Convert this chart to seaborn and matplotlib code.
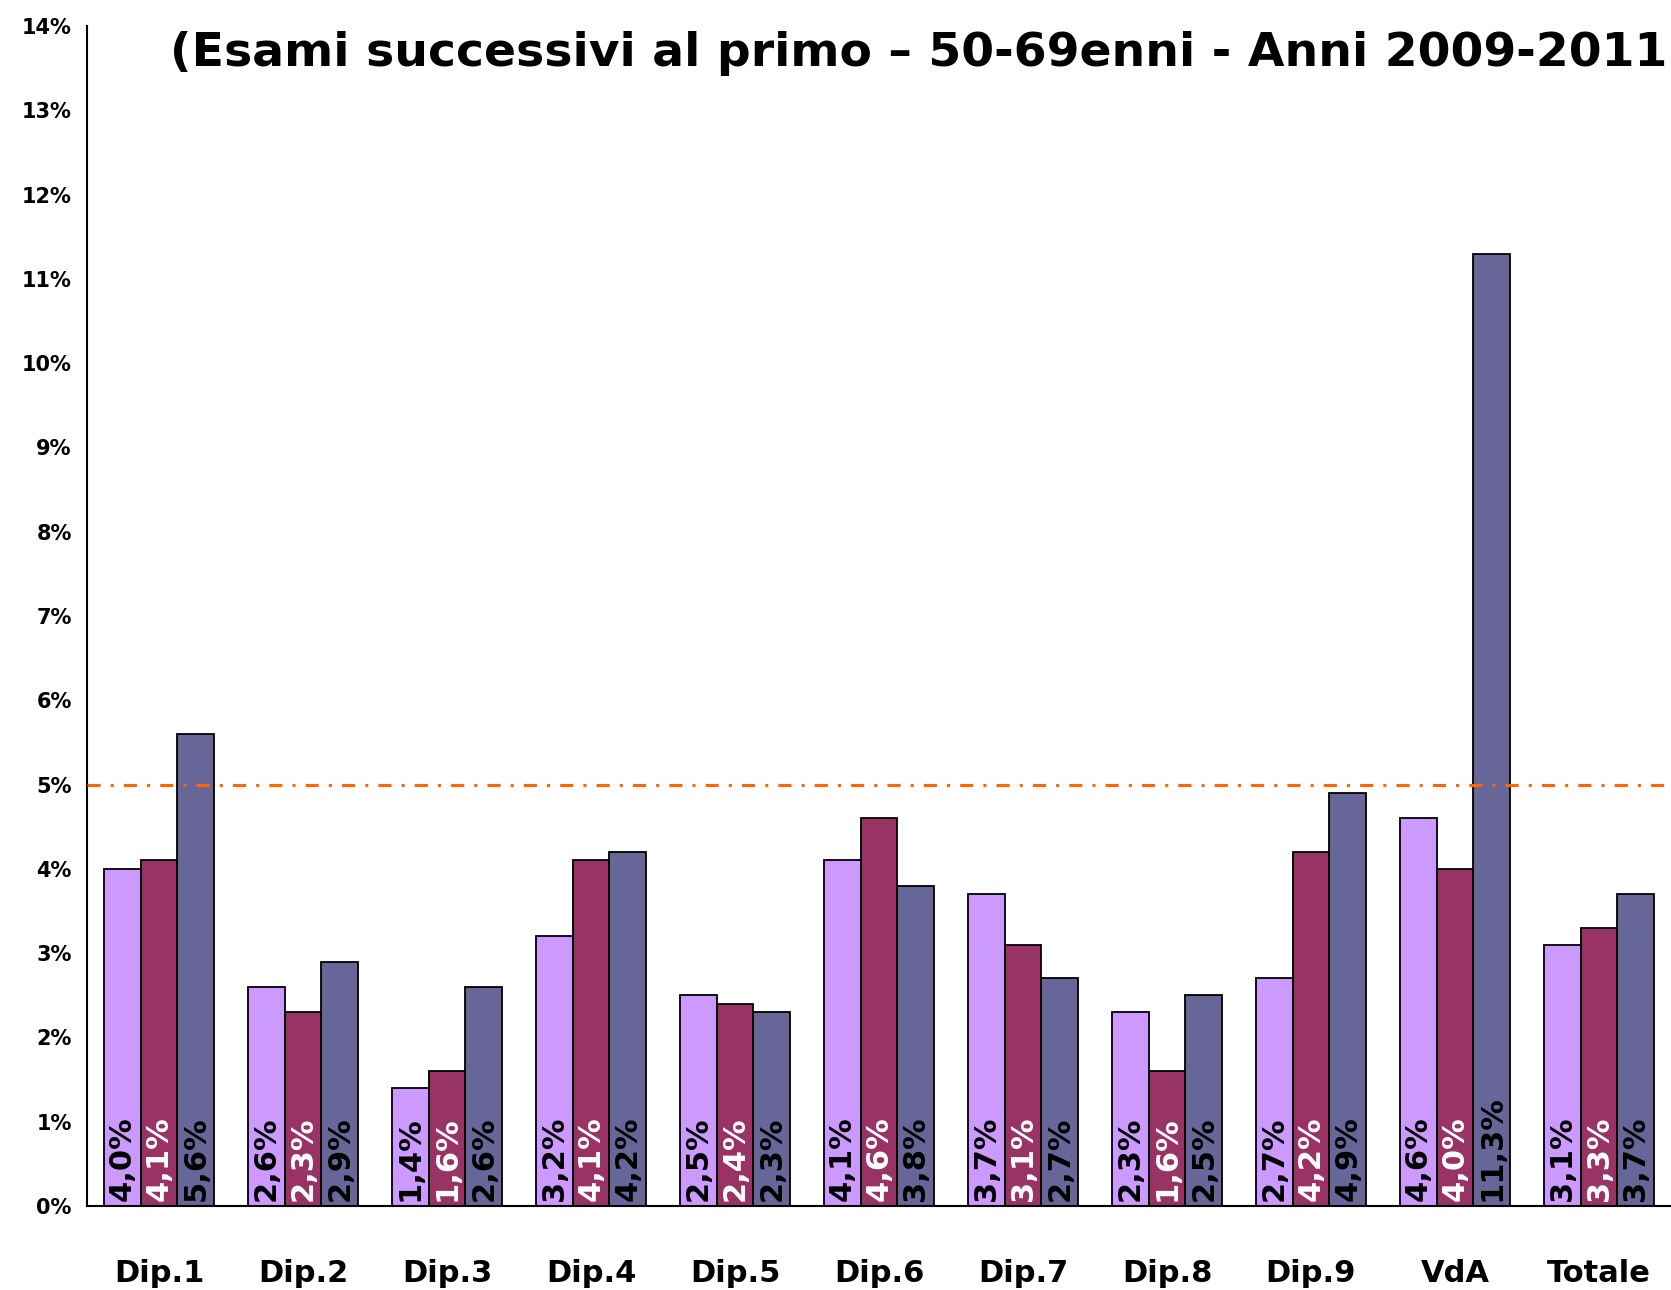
import matplotlib
matplotlib.use("Agg")
import matplotlib.pyplot as plt
import seaborn as sns
import pandas as pd
import numpy as np
from matplotlib.ticker import FixedLocator, PercentFormatter

categories = ["Dip.1", "Dip.2", "Dip.3", "Dip.4", "Dip.5", "Dip.6", "Dip.7", "Dip.8", "Dip.9", "VdA", "Totale"]
series_names = ["2009", "2010", "2011"]
values_2009 = [4.0, 2.6, 1.4, 3.2, 2.5, 4.1, 3.7, 2.3, 2.7, 4.6, 3.1]
values_2010 = [4.1, 2.3, 1.6, 4.1, 2.4, 4.6, 3.1, 1.6, 4.2, 4.0, 3.3]
values_2011 = [5.6, 2.9, 2.6, 4.2, 2.3, 3.8, 2.7, 2.5, 4.9, 11.3, 3.7]
reference_value = 5.0
title_text = "(Esami successivi al primo \u2013 50-69enni - Anni 2009-2011"

colors = ["#CC99FF", "#993366", "#666699"]
label_colors = ["black", "white", "black"]

rows = []
for name, vals in zip(series_names, [values_2009, values_2010, values_2011]):
    for c, v in zip(categories, vals):
        rows.append({"cat": c, "serie": name, "val": v / 100.0})
df = pd.DataFrame(rows)

sns.set_style("white")
plt.rcParams["font.family"] = ["DejaVu Sans"]
plt.rcParams["font.weight"] = "bold"

fig = plt.figure(figsize=(16.71, 12.90), dpi=100)
ax = fig.add_axes([87 / 1671, 1 - 1206 / 1290, 1 - 87 / 1671, (1206 - 26) / 1290])

sns.barplot(data=df, x="cat", y="val", hue="serie", order=categories, hue_order=series_names,
            palette=colors, width=0.77, gap=0, edgecolor="black", linewidth=1.3,
            saturation=1, legend=False, ax=ax, errorbar=None)

ax.set_xlim(-0.5, len(categories) - 0.5)
ax.set_ylim(0, 0.14)
ax.yaxis.set_major_locator(FixedLocator(np.arange(0, 0.1401, 0.01)))
ax.yaxis.set_major_formatter(PercentFormatter(1.0, decimals=0))
ax.set_xlabel("")
ax.set_ylabel("")

for s in ["top", "right"]:
    ax.spines[s].set_visible(False)
for s in ["left", "bottom"]:
    ax.spines[s].set_color("black")
    ax.spines[s].set_linewidth(1.5)

ax.tick_params(axis="y", which="major", direction="out", length=7, width=1.5, color="black",
               labelsize=15, pad=4, labelcolor="black")
ax.tick_params(axis="x", which="major", length=0, labelsize=22, pad=38, labelcolor="black")
ax.set_xticks(range(len(categories)))
ax.set_xticklabels(categories, fontweight="bold")
ax.xaxis.set_minor_locator(FixedLocator(np.arange(-0.5, len(categories), 1.0)))
ax.tick_params(axis="x", which="minor", direction="out", length=12, width=1.5, color="black")
for lab in ax.get_yticklabels():
    lab.set_fontweight("bold")

ax.axhline(reference_value / 100.0, color="#FF6600", linewidth=2.2,
           linestyle=(0, (4.3, 3.3, 1, 3.3)), zorder=5)

n = len(categories)
for i, p in enumerate(ax.patches[: 3 * n]):
    s = i // n
    v = p.get_height() * 100
    txt = f"{v:.1f}%".replace(".", ",")
    ax.text(p.get_x() + p.get_width() / 2, 0.0006, txt, rotation=90, ha="center", va="bottom",
            fontsize=22, fontweight="bold", color=label_colors[s], zorder=6)

fig.text(170 / 1671, 1 - 66 / 1290, title_text, fontsize=34, fontweight="bold", ha="left",
         va="baseline", color="black")

fig.savefig("out.png", dpi=100)
